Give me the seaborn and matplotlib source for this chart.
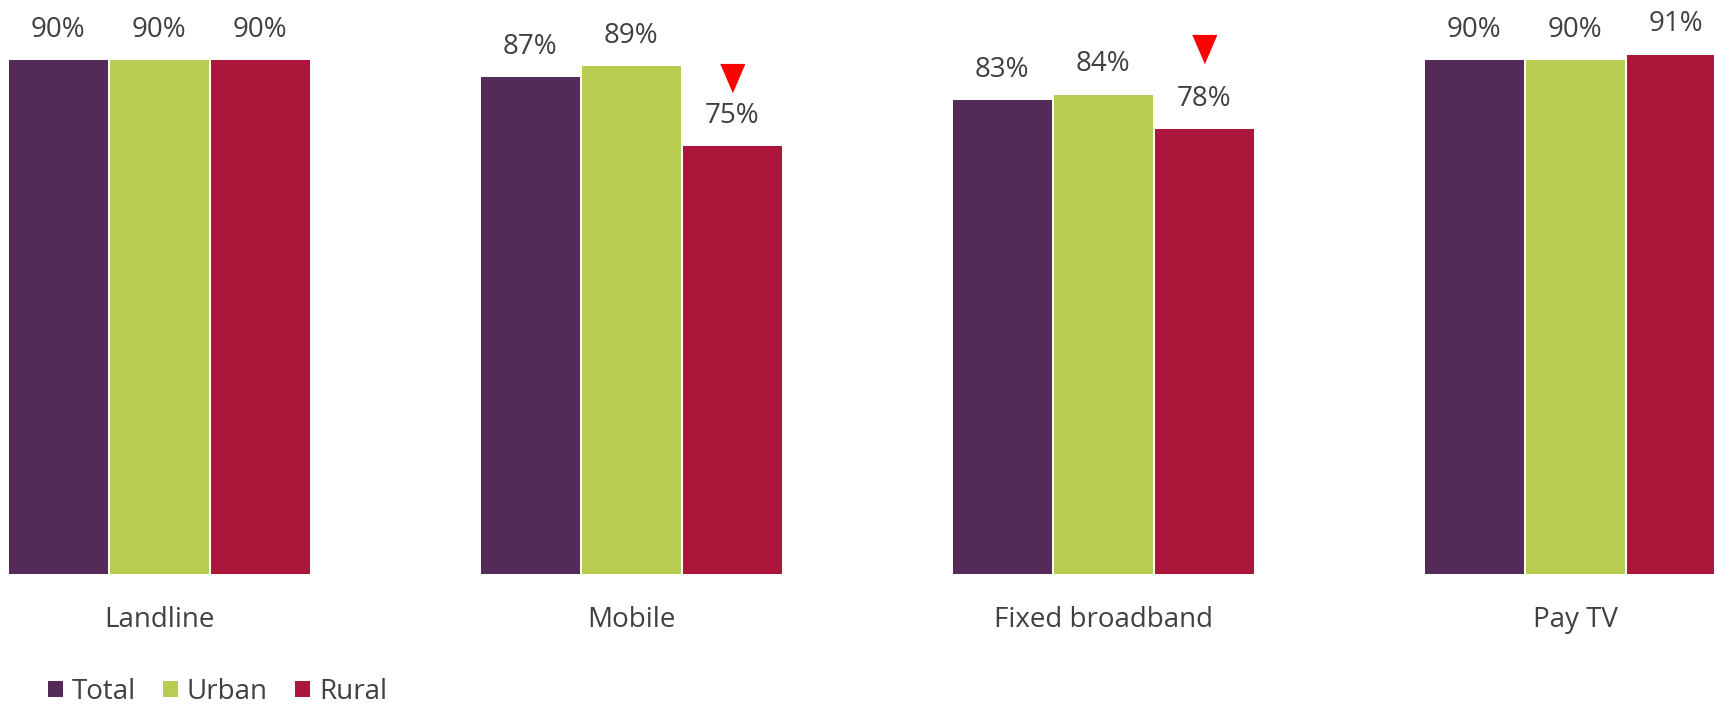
import pandas as pd
import matplotlib.pyplot as plt
import matplotlib.transforms as mtransforms
from matplotlib.patches import Patch
import seaborn as sns

# Chart data
categories = ['Landline', 'Mobile', 'Fixed broadband', 'Pay TV']
groups = ['Total', 'Urban', 'Rural']
total_vals = [90, 87, 83, 90]
urban_vals = [90, 89, 84, 90]
rural_vals = [90, 75, 78, 91]
# significant drop markers (rural vs total)
rural_flags = [False, True, True, False]

colors = ['#532A58', '#B8CC52', '#AB163A']
text_color = '#404040'

df = pd.DataFrame({
    'category': categories * 3,
    'group': [g for g in groups for _ in categories],
    'value': total_vals + urban_vals + rural_vals,
})

sns.set_style('white')
plt.rcParams['font.family'] = ['Open Sans', 'DejaVu Sans']

fig = plt.figure(figsize=(17.14, 7.07), dpi=100)
ax = fig.add_axes([0, 132 / 707, 1, 573 / 707])

sns.barplot(data=df, x='category', y='value', hue='group', order=categories,
            hue_order=groups, palette=colors, width=0.642, edgecolor='white',
            linewidth=1.44, saturation=1, ax=ax, legend=False)

ax.set_ylim(0, 100)
ax.set_xlim(-0.337, 3.294)
ax.set_xlabel('')
ax.set_ylabel('')
ax.set_yticks([])
ax.tick_params(axis='x', length=0, pad=22, labelsize=20, labelcolor=text_color)
sns.despine(ax=ax, left=True, bottom=True)

# value labels
for cont in ax.containers:
    ax.bar_label(cont, labels=[f'{v:.0f}%' for v in cont.datavalues],
                 padding=11, fontsize=20, color=text_color, clip_on=False)

# red down triangles above flagged rural bars
flag_offset_px = {'Mobile': 67, 'Fixed broadband': 79}
rural_bars = ax.containers[2]
for cat, flag, bar in zip(categories, rural_flags, rural_bars):
    if not flag:
        continue
    tr = mtransforms.offset_copy(ax.transData, fig=fig, x=0,
                                 y=flag_offset_px[cat], units='dots')
    ax.plot(bar.get_x() + bar.get_width() / 2, bar.get_height(),
            marker=[(-6, 7), (6, 7), (0, -7)], markersize=20,
            color='#FF0000', transform=tr, clip_on=False)

# legend
handles = [Patch(facecolor=c, edgecolor='none') for c in colors]
fig.legend(handles, groups, loc='lower left', bbox_to_anchor=(48 / 1714, 1 / 707),
           ncol=3, frameon=False, fontsize=20, handlelength=0.54, handleheight=0.54,
           handletextpad=0.3, columnspacing=1.0, borderpad=0, borderaxespad=0,
           labelcolor=text_color)

plt.savefig('out.png', dpi=100)
plt.close()
